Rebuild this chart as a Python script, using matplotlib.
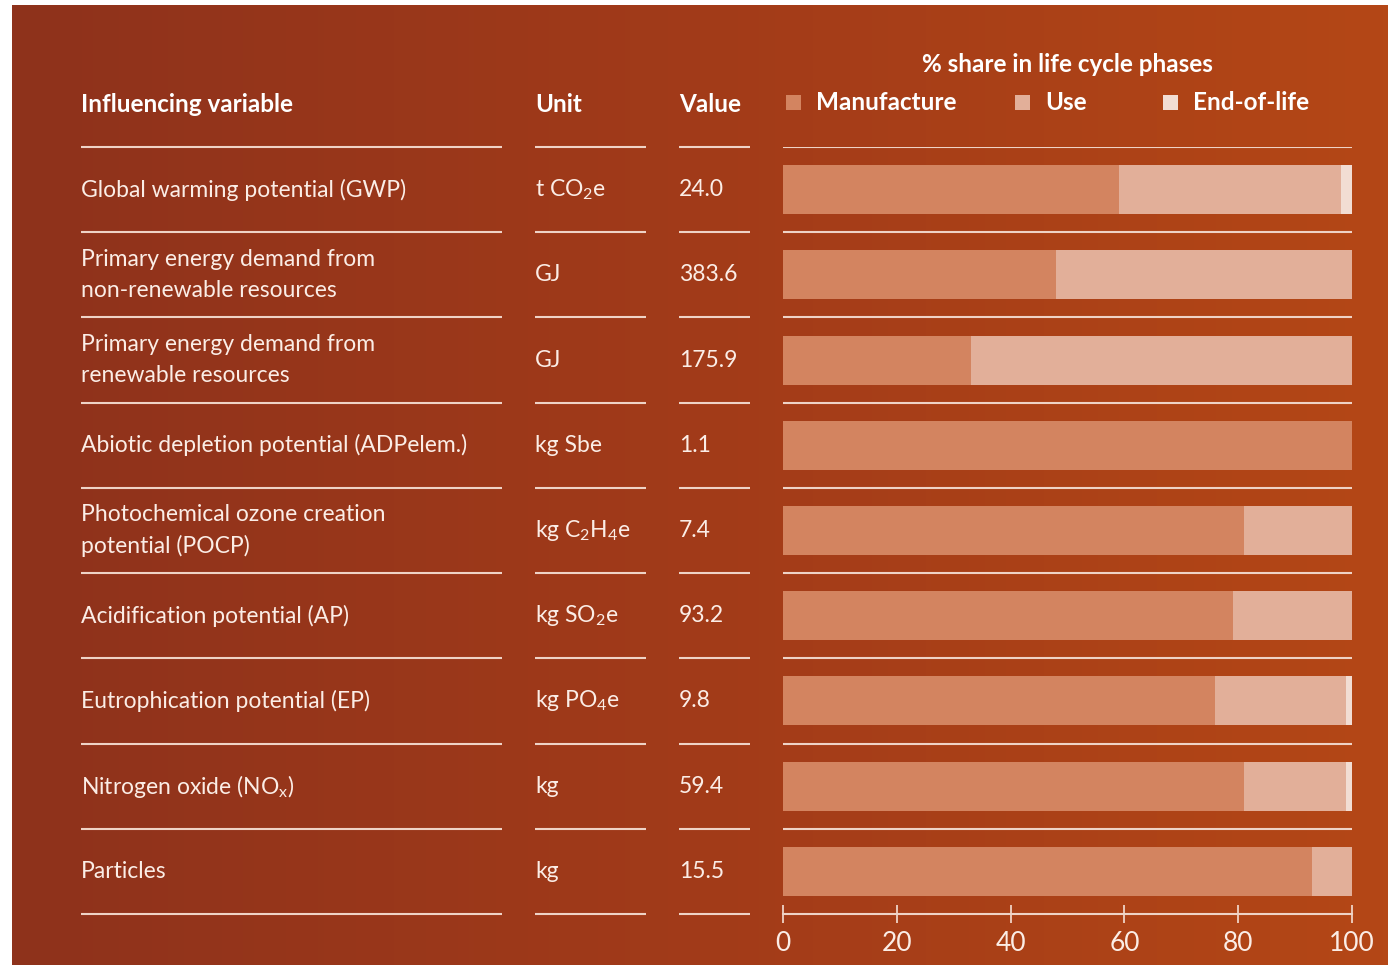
import numpy as np
import matplotlib
matplotlib.use("Agg")
import matplotlib.pyplot as plt
from matplotlib.patches import Rectangle
from matplotlib.colors import LinearSegmentedColormap

# ---------------- data ----------------
variables = [
    "Global warming potential (GWP)",
    "Primary energy demand from\nnon-renewable resources",
    "Primary energy demand from\nrenewable resources",
    "Abiotic depletion potential (ADPelem.)",
    "Photochemical ozone creation\npotential (POCP)",
    "Acidification potential (AP)",
    "Eutrophication potential (EP)",
    "Nitrogen oxide (NO$_\\mathregular{x}$)",
    "Particles",
]
units = [
    "t CO$_\\mathregular{2}$e", "GJ", "GJ", "kg Sbe",
    "kg C$_\\mathregular{2}$H$_\\mathregular{4}$e",
    "kg SO$_\\mathregular{2}$e", "kg PO$_\\mathregular{4}$e", "kg", "kg",
]
values = ["24.0", "383.6", "175.9", "1.1", "7.4", "93.2", "9.8", "59.4", "15.5"]

phases = ["Manufacture", "Use", "End-of-life"]
manufacture = [59, 48, 33, 100, 81, 79, 76, 81, 93]
use = [39, 52, 67, 0, 19, 21, 23, 18, 7]
end_of_life = [2, 0, 0, 0, 0, 0, 1, 1, 0]
x_ticks = [0, 20, 40, 60, 80, 100]

# ---------------- style ----------------
FONT = ["Lato", "DejaVu Sans"]
plt.rcParams["font.family"] = FONT
plt.rcParams["mathtext.fontset"] = "custom"
plt.rcParams["mathtext.rm"] = "Lato"
TXT = "#FBEDE6"
LINE = "#EFD3C6"
C_MAN, C_USE, C_EOL = "#D38460", "#E2AF99", "#F2DDD3"

W, H = 1388, 965
fig = plt.figure(figsize=(W / 100, H / 100), dpi=100)
fig.patch.set_facecolor("white")

bg = fig.add_axes([0, 0, 1, 1])
cmap = LinearSegmentedColormap.from_list("bg", ["#8E321C", "#A23B19", "#B44716"])
grad = np.linspace(0, 1, 256).reshape(1, -1)
bg.imshow(grad, cmap=cmap, aspect="auto", extent=[12, W, H, 5], zorder=0)
bg.set_xlim(0, W)
bg.set_ylim(H, 0)
bg.axis("off")

# layout in pixels
top_line = 147
bot_line = 914
row_h = (bot_line - top_line) / 9
col_segments = [(81, 502), (535, 646), (679, 750)]
FS = 16.5
FS_H = 17.5
BODY_W = "normal"

# header
hdr = dict(color="white", fontsize=FS_H, fontweight="bold", va="center")
bg.text(81, 104, "Influencing variable", ha="left", **hdr)
bg.text(535, 104, "Unit", ha="left", **hdr)
bg.text(679, 104, "Value", ha="left", **hdr)
bg.text(1067, 65, "% share in life cycle phases", ha="center", **hdr)
for name, col, sx, tx in zip(phases, [C_MAN, C_USE, C_EOL],
                             [786, 1015, 1163], [816, 1045, 1193]):
    bg.add_patch(Rectangle((sx, 95), 15, 15, facecolor=col, edgecolor="none"))
    bg.text(tx, 103, name, ha="left", **hdr)

# separator lines for text columns
for k in range(10):
    y = top_line + k * row_h
    for x0, x1 in col_segments:
        bg.plot([x0, x1], [y, y], color=LINE, lw=1.5, solid_capstyle="butt")

# row texts
for i in range(9):
    yc = top_line + (i + 0.5) * row_h
    bg.text(81, yc, variables[i], color=TXT, fontsize=FS, fontweight=BODY_W,
            va="center", ha="left", linespacing=1.55)
    bg.text(535, yc, units[i], color=TXT, fontsize=FS, fontweight=BODY_W,
            va="center", ha="left")
    bg.text(679, yc, values[i], color=TXT, fontsize=FS, fontweight=BODY_W,
            va="center", ha="left")

# bar axes
x0, x1 = 783, 1352
ax = fig.add_axes([x0 / W, (H - bot_line) / H, (x1 - x0) / W,
                   (bot_line - top_line) / H])
ax.patch.set_alpha(0)
ax.set_xlim(0, 100)
ax.set_ylim(9, 0)
ypos = np.arange(9) + 0.5
man = np.array(manufacture)
us = np.array(use)
eol = np.array(end_of_life)
bh = 49 / row_h
ax.barh(ypos, man, height=bh, color=C_MAN)
ax.barh(ypos, us, left=man, height=bh, color=C_USE)
ax.barh(ypos, eol, left=man + us, height=bh, color=C_EOL)
for k in range(9):
    ax.axhline(k, color=LINE, lw=1.5)
for s in ["top", "left", "right"]:
    ax.spines[s].set_visible(False)
ax.spines["bottom"].set_color(LINE)
ax.spines["bottom"].set_linewidth(1.5)
ax.set_yticks([])
ax.set_xticks(x_ticks)
ax.tick_params(axis="x", direction="inout", length=13, width=1.3, color=LINE,
               labelcolor=TXT, labelsize=19, pad=6)
for lab in ax.get_xticklabels():
    lab.set_fontfamily(FONT)
    lab.set_fontweight(BODY_W)

fig.savefig("out.png", dpi=100, facecolor="white")
